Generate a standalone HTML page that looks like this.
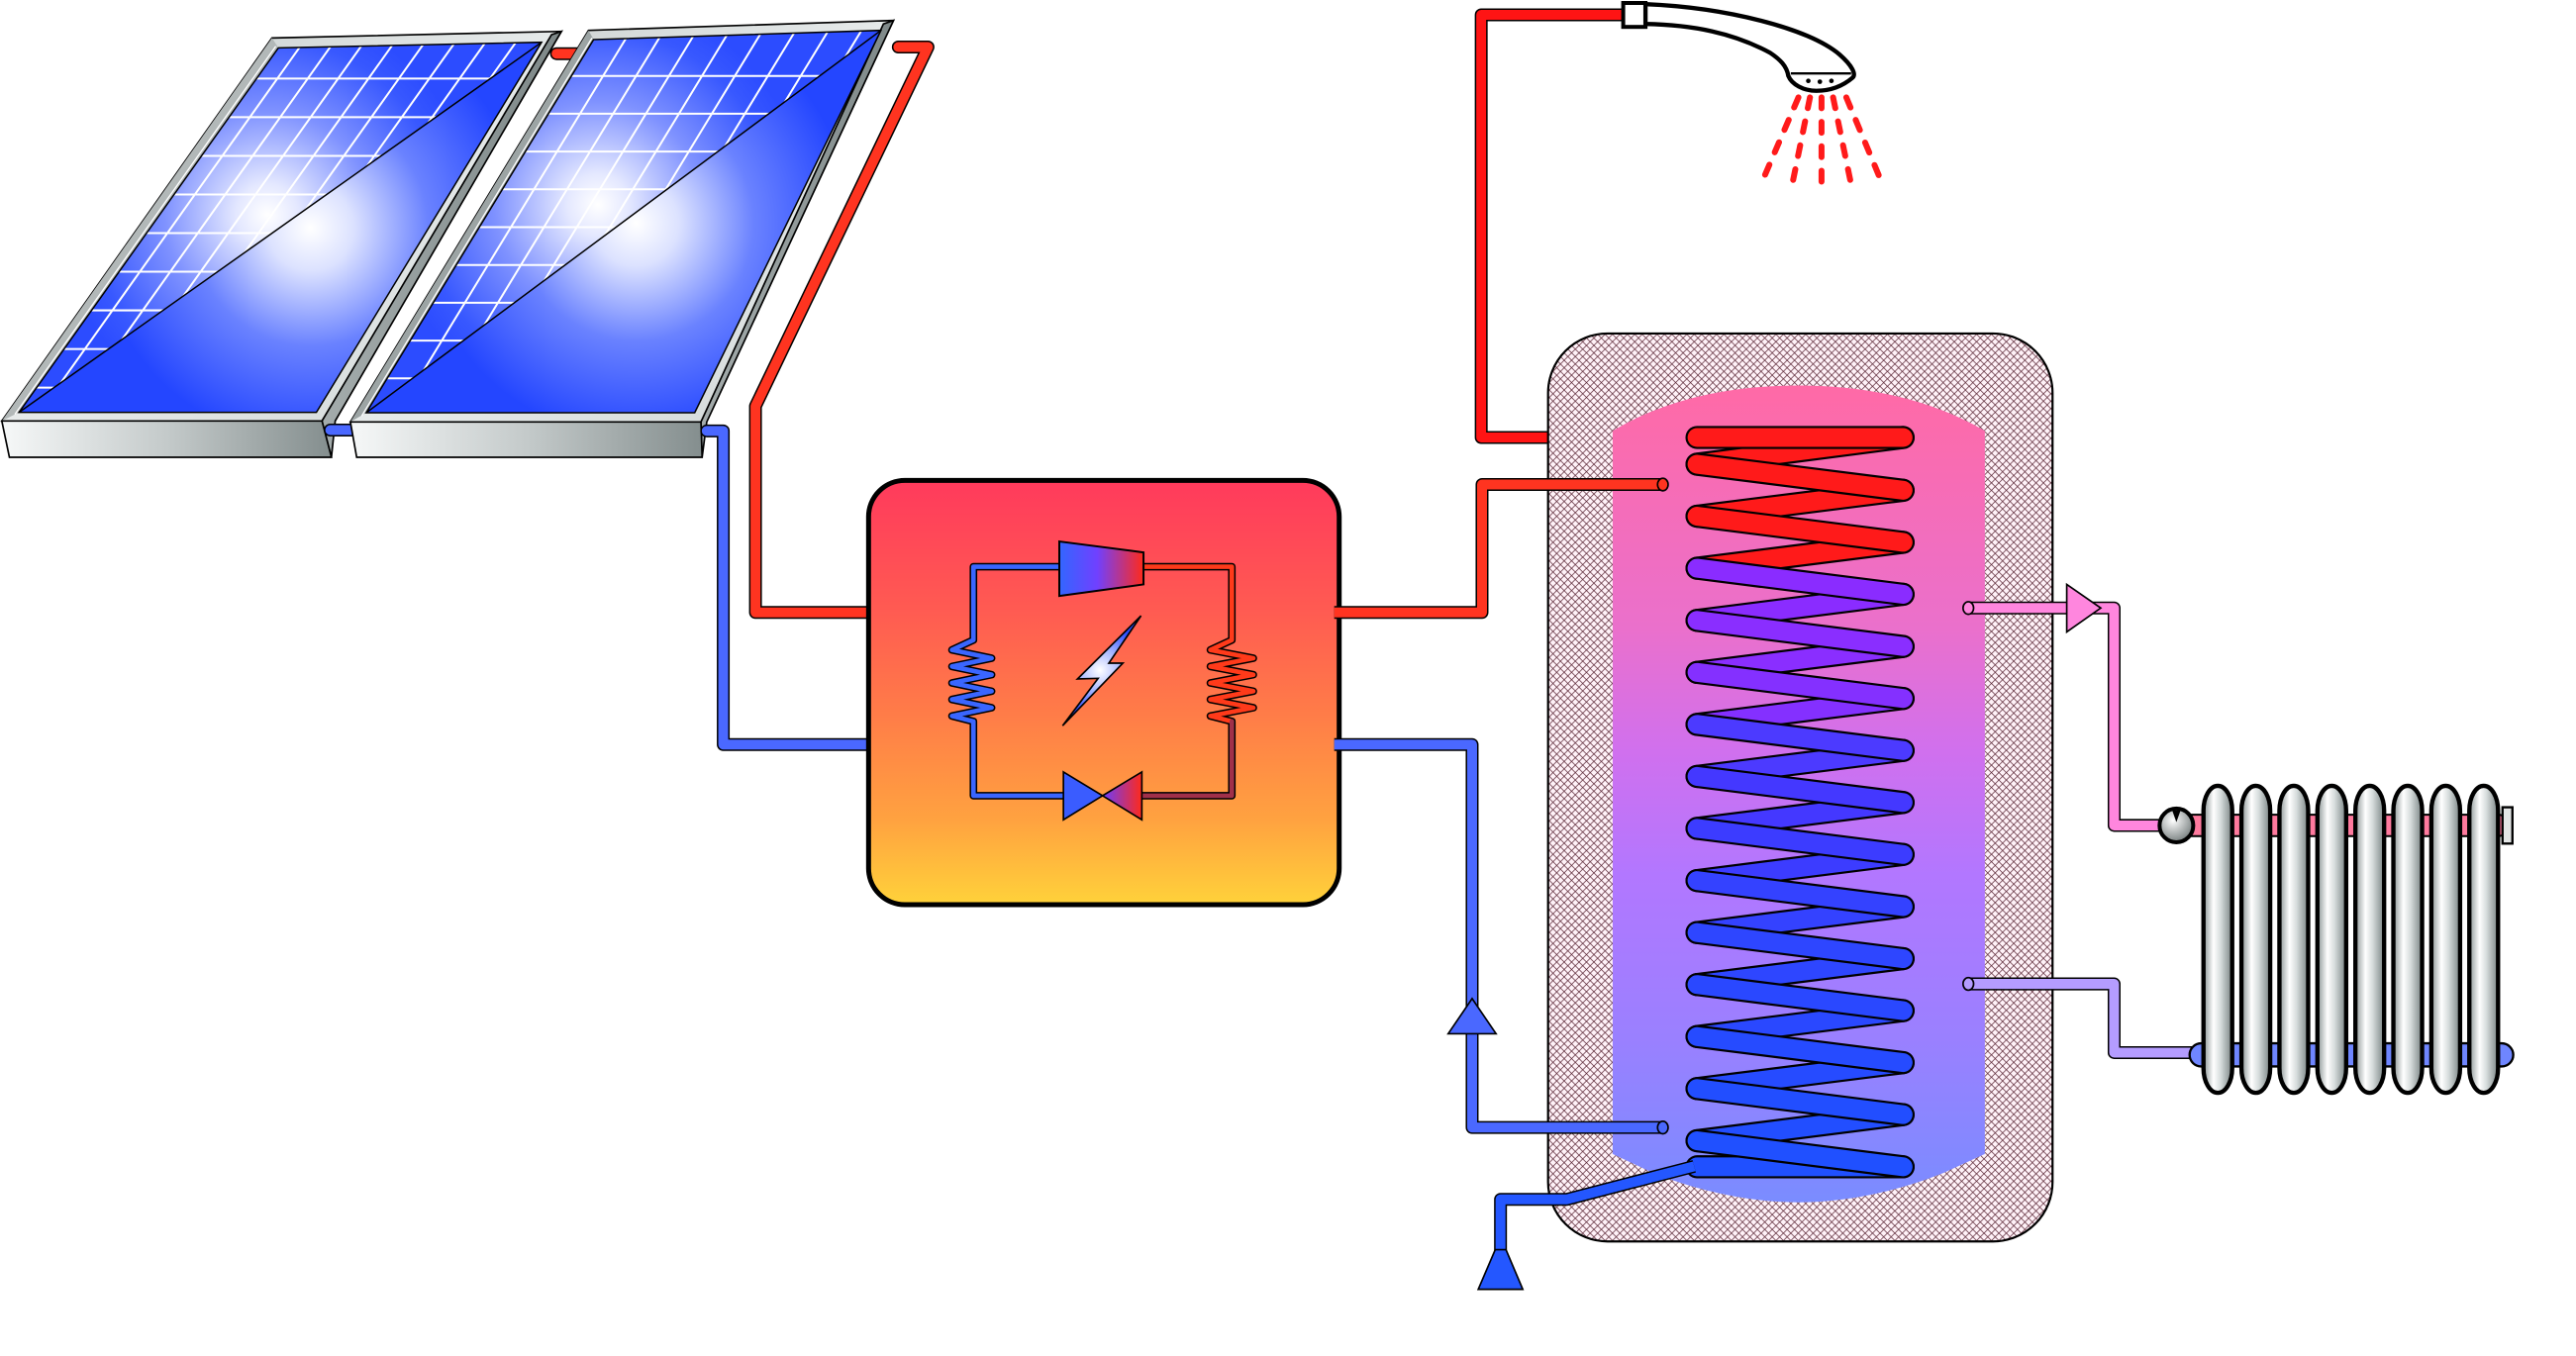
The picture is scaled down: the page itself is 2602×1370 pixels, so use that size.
<!DOCTYPE html>
<html><head><meta charset="utf-8"><style>
html,body{margin:0;padding:0;background:#fff;}
svg{display:block;}
</style></head><body>
<svg width="2602" height="1370" viewBox="0 0 1560 821.4" preserveAspectRatio="none" xmlns="http://www.w3.org/2000/svg">
<defs>
 <linearGradient id="frameG" x1="0" y1="0" x2="1" y2="1">
  <stop offset="0" stop-color="#c2c8c8"/><stop offset="0.5" stop-color="#e6eaea"/><stop offset="1" stop-color="#d0d6d6"/>
 </linearGradient>
 <linearGradient id="sideG" x1="0" y1="0" x2="1" y2="0">
  <stop offset="0" stop-color="#a4acac"/><stop offset="1" stop-color="#7e8888"/>
 </linearGradient>
 <linearGradient id="frontG" x1="0" y1="0" x2="1" y2="0">
  <stop offset="0" stop-color="#f6f8f8"/><stop offset="0.5" stop-color="#c4caca"/><stop offset="1" stop-color="#848e8e"/>
 </linearGradient>
 <radialGradient id="ulL" gradientUnits="userSpaceOnUse" cx="162" cy="130" r="125">
  <stop offset="0" stop-color="#ffffff"/><stop offset="0.15" stop-color="#e4e8ff"/><stop offset="0.5" stop-color="#7f92ff"/><stop offset="0.85" stop-color="#3858ff"/><stop offset="1" stop-color="#2c4cff"/>
 </radialGradient>
 <radialGradient id="lrL" gradientUnits="userSpaceOnUse" cx="188" cy="138" r="130">
  <stop offset="0" stop-color="#ffffff"/><stop offset="0.2" stop-color="#dce2ff"/><stop offset="0.55" stop-color="#6a82ff"/><stop offset="1" stop-color="#2446ff"/>
 </radialGradient>
 <radialGradient id="ulR" gradientUnits="userSpaceOnUse" cx="362" cy="124" r="125">
  <stop offset="0" stop-color="#ffffff"/><stop offset="0.15" stop-color="#e4e8ff"/><stop offset="0.5" stop-color="#7f92ff"/><stop offset="0.85" stop-color="#3858ff"/><stop offset="1" stop-color="#2c4cff"/>
 </radialGradient>
 <radialGradient id="lrR" gradientUnits="userSpaceOnUse" cx="385" cy="135" r="130">
  <stop offset="0" stop-color="#ffffff"/><stop offset="0.2" stop-color="#dce2ff"/><stop offset="0.55" stop-color="#6a82ff"/><stop offset="1" stop-color="#2446ff"/>
 </radialGradient>
 <clipPath id="clipL"><polygon points="168.6,29 328,25.6 11.5,249.8"/></clipPath>
 <clipPath id="clipR"><polygon points="359.5,24 533.5,18.4 221.8,250"/></clipPath>
 <linearGradient id="boxG" x1="0" y1="0" x2="0" y2="1">
  <stop offset="0" stop-color="#ff3a5c"/><stop offset="0.3" stop-color="#ff5a52"/><stop offset="0.55" stop-color="#ff7c48"/><stop offset="0.8" stop-color="#ffa240"/><stop offset="1" stop-color="#ffd23a"/>
 </linearGradient>
 <linearGradient id="compG" x1="0" y1="0" x2="1" y2="0">
  <stop offset="0" stop-color="#3366ff"/><stop offset="0.45" stop-color="#7040ff"/><stop offset="1" stop-color="#ff2a1a"/>
 </linearGradient>
 <linearGradient id="valveG" x1="0" y1="0" x2="1" y2="0">
  <stop offset="0" stop-color="#6a3cff"/><stop offset="1" stop-color="#ff2a1a"/>
 </linearGradient>
 <radialGradient id="boltG" gradientUnits="userSpaceOnUse" cx="666" cy="406" r="28">
  <stop offset="0" stop-color="#ffffff"/><stop offset="0.45" stop-color="#a8b8ff"/><stop offset="1" stop-color="#2a4cff"/>
 </radialGradient>
 <pattern id="hatch" patternUnits="userSpaceOnUse" width="4.5" height="4.5">
  <rect width="4.5" height="4.5" fill="#fff2f8"/>
  <path d="M0,0 L4.5,4.5 M4.5,0 L0,4.5 M-0.5,4 L0.5,5 M4,-0.5 L5,0.5 M4,5 L5,4 M-0.5,0.5 L0.5,-0.5" stroke="#55202f" stroke-width="0.44"/>
 </pattern>
 <linearGradient id="tankG" gradientUnits="userSpaceOnUse" x1="0" y1="233" x2="0" y2="728">
  <stop offset="0" stop-color="#ff6aa6"/><stop offset="0.3" stop-color="#ea70cc"/><stop offset="0.45" stop-color="#d070ee"/><stop offset="0.6" stop-color="#b277ff"/><stop offset="0.8" stop-color="#9a80ff"/><stop offset="1" stop-color="#7a8cff"/>
 </linearGradient>
 <linearGradient id="colG" x1="0" y1="0" x2="1" y2="0">
  <stop offset="0" stop-color="#8a9494"/><stop offset="0.35" stop-color="#ffffff"/><stop offset="0.6" stop-color="#d6dcdc"/><stop offset="1" stop-color="#7a8484"/>
 </linearGradient>
 <radialGradient id="valvR" cx="0.4" cy="0.35" r="0.7">
  <stop offset="0" stop-color="#ffffff"/><stop offset="1" stop-color="#707878"/>
 </radialGradient>
</defs>

<!-- ============ LEFT SOLAR PANEL ============ -->
<polygon points="164.7,23 340,19 195,255 1.1,255" fill="url(#frameG)" stroke="#000" stroke-width="1"/>
<polygon points="164.7,23 168.6,29 11.5,249.8 1.1,255" fill="#b2b8b8"/>
<line x1="167" y1="28" x2="9" y2="251" stroke="#fff" stroke-width="0.8"/>
<polygon points="334,21 340,19 203,255 200.7,277 195,255" fill="url(#sideG)" stroke="#000" stroke-width="1"/>
<polygon points="1.1,255 195,255 200.7,277 5.7,277" fill="url(#frontG)" stroke="#000" stroke-width="1"/>
<polygon points="168.6,29 328,25.6 11.5,249.8" fill="url(#ulL)"/>
<polygon points="328,25.6 191.6,249.8 11.5,249.8" fill="url(#lrL)"/>
<g clip-path="url(#clipL)" stroke="#fff" stroke-width="1.2" fill="none">
 <path d="M0,47.6H340M0,71H340M0,94.4H340M0,117.8H340M0,141.2H340M0,164.6H340M0,188H340M0,211.4H340M0,234.8H340"/>
 <path d="M187.6,20L20.4,255M206,20L38.8,255M224.4,20L57.2,255M242.8,20L75.6,255M261.2,20L94,255M279.6,20L112.4,255M298,20L130.8,255M316.4,20L149.2,255"/>
</g>
<polygon points="168.6,29 328,25.6 191.6,249.8 11.5,249.8" fill="none" stroke="#000" stroke-width="0.9"/>
<line x1="11.5" y1="249.8" x2="328" y2="25.6" stroke="#000" stroke-width="0.9"/>

<!-- stubs between panels -->
<path d="M337,32.5 L352,32.5" stroke="#000" stroke-width="7.8" stroke-linecap="round"/>
<path d="M337,32.5 L352,32.5" stroke="#ff3420" stroke-width="6" stroke-linecap="round"/>
<path d="M200,260.5 L213,260.5" stroke="#000" stroke-width="7.8" stroke-linecap="round"/>
<path d="M200,260.5 L213,260.5" stroke="#4a68ff" stroke-width="6" stroke-linecap="round"/>

<!-- ============ RIGHT SOLAR PANEL ============ -->
<polygon points="356.4,18.4 541.1,12.4 424.5,255.6 212.2,255.6" fill="url(#frameG)" stroke="#000" stroke-width="1"/>
<polygon points="356.4,18.4 359.5,24 221.8,250 212.2,255.6" fill="#9ca4a4"/>
<line x1="358.5" y1="23" x2="219" y2="252" stroke="#fff" stroke-width="0.8"/>
<polygon points="535,14.5 541.1,12.4 428,255.6 425.2,277 424.5,255.6" fill="url(#sideG)" stroke="#000" stroke-width="1"/>
<polygon points="212.2,255.6 424.5,255.6 425.2,277 216,277" fill="url(#frontG)" stroke="#000" stroke-width="1"/>
<polygon points="359.5,24 533.5,18.4 221.8,250" fill="url(#ulR)"/>
<polygon points="533.5,18.4 420.7,250 221.8,250" fill="url(#lrR)"/>
<g clip-path="url(#clipR)" stroke="#fff" stroke-width="1.2" fill="none">
 <path d="M200,46H540M200,68.9H540M200,91.8H540M200,114.7H540M200,137.6H540M200,160.5H540M200,183.4H540M200,206.3H540M200,229.2H540"/>
 <path d="M384.1,15L237.9,255M404.1,15L257.9,255M424,15L277.8,255M444,15L297.8,255M463.9,15L317.7,255M483.9,15L337.7,255M503.8,15L357.6,255M523.8,15L377.6,255"/>
</g>
<polygon points="359.5,24 533.5,18.4 420.7,250 221.8,250" fill="none" stroke="#000" stroke-width="0.9"/>
<line x1="221.8" y1="250" x2="533.5" y2="18.4" stroke="#000" stroke-width="0.9"/>

<!-- ============ PIPES (left side) ============ -->
<g fill="none" stroke-linejoin="round" stroke-linecap="round">
 <path d="M544,28.5 L562,28.5 L457.5,246 L457.5,371 L530,371" stroke="#000" stroke-width="7.8"/>
 <path d="M544,28.5 L562,28.5 L457.5,246 L457.5,371 L530,371" stroke="#ff3420" stroke-width="6"/>
 <path d="M428,261 L438,261 L438,451 L530,451" stroke="#000" stroke-width="7.8"/>
 <path d="M428,261 L438,261 L438,451 L530,451" stroke="#4a68ff" stroke-width="6"/>
 <path d="M937,265 L897,265 L897,9 L985,9" stroke="#000" stroke-width="7.8" stroke-linecap="butt"/>
 <path d="M937,265 L897,265 L897,9 L985,9" stroke="#ff1414" stroke-width="6" stroke-linecap="butt"/>
</g>

<!-- ============ HEAT PUMP BOX ============ -->
<rect x="526" y="291" width="285" height="257" rx="22" ry="22" fill="url(#boxG)" stroke="#000" stroke-width="3"/>
<g fill="none" stroke-linejoin="round" stroke-linecap="round">
 <path d="M641.5,343.3 L589.5,343.3 L589.5,387.7 L576.5,393.7 L600.5,398.7 L576.5,403.7 L600.5,408.7 L576.5,413.7 L600.5,418.7 L576.5,423.7 L600.5,428.7 L576.5,433.7 L589.5,437 L589.5,482 L644,482" stroke="#000" stroke-width="4.6"/>
 <path d="M692.5,343.3 L746,343.3 L746,387.7 L733,393.7 L759,398.7 L733,403.7 L759,408.7 L733,413.7 L759,418.7 L733,423.7 L759,428.7 L733,433.7 L746,437 L746,482 L691.5,482" stroke="#000" stroke-width="4.6"/>
 <path d="M641.5,343.3 L589.5,343.3 L589.5,387.7 L576.5,393.7 L600.5,398.7 L576.5,403.7 L600.5,408.7 L576.5,413.7 L600.5,418.7 L576.5,423.7 L600.5,428.7 L576.5,433.7 L589.5,437 L589.5,482 L644,482" stroke="#3a66ff" stroke-width="2.8"/>
 <path d="M692.5,343.3 L746,343.3 L746,387.7 L733,393.7 L759,398.7 L733,403.7 L759,408.7 L733,413.7 L759,418.7 L733,423.7 L759,428.7 L733,433.7 L746,437" stroke="#ff3a1a" stroke-width="2.8"/>
 <path d="M746,437 L746,482 L691.5,482" stroke="#a0304a" stroke-width="2.8"/>
</g>
<polygon points="641.5,328 692.5,334.6 692.5,354 641.5,361" fill="url(#compG)" stroke="#000" stroke-width="1.2"/>
<polygon points="644,467.6 667.7,482 644,496.6" fill="#3a5cff" stroke="#000" stroke-width="1"/>
<polygon points="691.5,467.6 667.7,482 691.5,496.6" fill="url(#valveG)" stroke="#000" stroke-width="1"/>
<polygon points="691,373 652.5,411.3 665,410.9 643.5,439.6 680,401.7 671.5,401.7" fill="url(#boltG)" stroke="#000" stroke-width="1" stroke-linejoin="miter"/>

<!-- ============ SHOWER ============ -->
<rect x="983" y="1.8" width="13.5" height="14.5" fill="#fff" stroke="#000" stroke-width="2.4"/>
<path d="M996.5,2.5 C1045,4.5 1095,17 1114,33 C1122,40 1124,45 1122,47 C1115,53 1107,55 1100,55 C1092,55 1085,51 1083,46 C1082,40 1078,36 1072,32 C1050,20 1025,15 996.5,14.5 Z" fill="#fff" stroke="#000" stroke-width="2.6" stroke-linejoin="round"/>
<path d="M1084.5,44.5 L1121,44.5" stroke="#000" stroke-width="1.4"/>
<circle cx="1095.1" cy="49" r="1.4" fill="#000"/>
<circle cx="1102.1" cy="49.5" r="1.4" fill="#000"/>
<circle cx="1109.1" cy="49" r="1.4" fill="#000"/>
<g stroke="#ff1a1a" stroke-width="3.6" stroke-linecap="round" stroke-dasharray="6.6 8.2" fill="none">
 <path d="M1089.1,59 L1068.2,107.5"/>
 <path d="M1096.1,59 L1085.1,113"/>
 <path d="M1103.1,59 L1103.1,114"/>
 <path d="M1110.1,59 L1121.1,112"/>
 <path d="M1118.1,59 L1138.1,107"/>
</g>

<!-- ============ TANK ============ -->
<rect x="937.5" y="202" width="305.5" height="550" rx="36" ry="36" fill="url(#hatch)" stroke="#000" stroke-width="1.3"/>
<path d="M976.6,261 C1010,241 1050,233.5 1089.3,233.5 C1128,233.5 1168,241 1202,261 L1202,699 L1177,710.5 C1148,722 1118,728.3 1089.3,728.3 C1060,728.3 1030,722 1001,710.5 L976.6,699 Z" fill="url(#tankG)"/>

<!-- box to tank pipes (over insulation) -->
<g fill="none" stroke-linejoin="round">
 <path d="M808,371 L897.5,371 L897.5,293.5 L1007,293.5" stroke="#000" stroke-width="7.8"/>
 <path d="M808,371 L897.5,371 L897.5,293.5 L1007,293.5" stroke="#ff3420" stroke-width="6"/>
 <path d="M808,451 L891.5,451 L891.5,683 L1007,683" stroke="#000" stroke-width="7.8"/>
 <path d="M808,451 L891.5,451 L891.5,683 L1007,683" stroke="#4a68ff" stroke-width="6"/>
</g>
<polygon points="891.5,604.9 906,626.2 877,626.2" fill="#4a68ff" stroke="#000" stroke-width="1"/>
<ellipse cx="1007" cy="293.5" rx="3.2" ry="3.8" fill="#ff3420" stroke="#000" stroke-width="1"/>
<ellipse cx="1007" cy="683" rx="3.2" ry="3.8" fill="#4a68ff" stroke="#000" stroke-width="1"/>

<!-- coil: back tubes -->
<g stroke-linecap="round" fill="none">
 <path d="M1152.5,265 L1027.7,281.2" stroke="#000" stroke-width="14"/><path d="M1152.5,265 L1027.7,281.2" stroke="#ff1a1a" stroke-width="11.4"/>
 <path d="M1152.5,297 L1027.7,312.7" stroke="#000" stroke-width="14"/><path d="M1152.5,297 L1027.7,312.7" stroke="#ff1a1a" stroke-width="11.4"/>
 <path d="M1152.5,328.5 L1027.7,344.2" stroke="#000" stroke-width="14"/><path d="M1152.5,328.5 L1027.7,344.2" stroke="#ff1a1a" stroke-width="11.4"/>
 <path d="M1152.5,360 L1027.7,375.8" stroke="#000" stroke-width="14"/><path d="M1152.5,360 L1027.7,375.8" stroke="#8a2cff" stroke-width="11.4"/>
 <path d="M1152.5,391.6 L1027.7,407.3" stroke="#000" stroke-width="14"/><path d="M1152.5,391.6 L1027.7,407.3" stroke="#8a2eff" stroke-width="11.4"/>
 <path d="M1152.5,423.1 L1027.7,438.8" stroke="#000" stroke-width="14"/><path d="M1152.5,423.1 L1027.7,438.8" stroke="#8430ff" stroke-width="11.4"/>
 <path d="M1152.5,454.6 L1027.7,470.3" stroke="#000" stroke-width="14"/><path d="M1152.5,454.6 L1027.7,470.3" stroke="#4c3aff" stroke-width="11.4"/>
 <path d="M1152.5,486.1 L1027.7,501.8" stroke="#000" stroke-width="14"/><path d="M1152.5,486.1 L1027.7,501.8" stroke="#4438ff" stroke-width="11.4"/>
 <path d="M1152.5,517.6 L1027.7,533.4" stroke="#000" stroke-width="14"/><path d="M1152.5,517.6 L1027.7,533.4" stroke="#3c3cff" stroke-width="11.4"/>
 <path d="M1152.5,549.2 L1027.7,564.9" stroke="#000" stroke-width="14"/><path d="M1152.5,549.2 L1027.7,564.9" stroke="#3442ff" stroke-width="11.4"/>
 <path d="M1152.5,580.7 L1027.7,596.4" stroke="#000" stroke-width="14"/><path d="M1152.5,580.7 L1027.7,596.4" stroke="#2e46ff" stroke-width="11.4"/>
 <path d="M1152.5,612.2 L1027.7,627.9" stroke="#000" stroke-width="14"/><path d="M1152.5,612.2 L1027.7,627.9" stroke="#2a48ff" stroke-width="11.4"/>
 <path d="M1152.5,643.7 L1027.7,659.4" stroke="#000" stroke-width="14"/><path d="M1152.5,643.7 L1027.7,659.4" stroke="#264bff" stroke-width="11.4"/>
 <path d="M1152.5,675.2 L1027.7,691" stroke="#000" stroke-width="14"/><path d="M1152.5,675.2 L1027.7,691" stroke="#224eff" stroke-width="11.4"/>
 <path d="M1152.5,706.8 L1027.7,706.8" stroke="#000" stroke-width="14"/><path d="M1152.5,706.8 L1027.7,706.8" stroke="#2050ff" stroke-width="11.4"/>
</g>
<!-- exit pipe -->
<g fill="none" stroke-linejoin="round">
 <path d="M1026,706.5 L949,726.5 L908.7,726.5 L908.7,760" stroke="#000" stroke-width="7.8"/>
 <path d="M1026,706.5 L949,726.5 L908.7,726.5 L908.7,760" stroke="#2457ff" stroke-width="6"/>
</g>
<polygon points="905.5,757 912,757 922.2,781 895.2,781" fill="#2457ff" stroke="#000" stroke-width="1"/>
<!-- coil: front tubes -->
<g stroke-linecap="round" fill="none">
 <path d="M1027.7,265 L1152.5,265" stroke="#000" stroke-width="14"/><path d="M1027.7,265 L1152.5,265" stroke="#ff1a1a" stroke-width="11.4"/>
 <path d="M1027.7,281.2 L1152.5,297" stroke="#000" stroke-width="14"/><path d="M1027.7,281.2 L1152.5,297" stroke="#ff1a1a" stroke-width="11.4"/>
 <path d="M1027.7,312.7 L1152.5,328.5" stroke="#000" stroke-width="14"/><path d="M1027.7,312.7 L1152.5,328.5" stroke="#ff1a1a" stroke-width="11.4"/>
 <path d="M1027.7,344.2 L1152.5,360" stroke="#000" stroke-width="14"/><path d="M1027.7,344.2 L1152.5,360" stroke="#8a2cff" stroke-width="11.4"/>
 <path d="M1027.7,375.8 L1152.5,391.6" stroke="#000" stroke-width="14"/><path d="M1027.7,375.8 L1152.5,391.6" stroke="#8a2eff" stroke-width="11.4"/>
 <path d="M1027.7,407.3 L1152.5,423.1" stroke="#000" stroke-width="14"/><path d="M1027.7,407.3 L1152.5,423.1" stroke="#8430ff" stroke-width="11.4"/>
 <path d="M1027.7,438.8 L1152.5,454.6" stroke="#000" stroke-width="14"/><path d="M1027.7,438.8 L1152.5,454.6" stroke="#4c3aff" stroke-width="11.4"/>
 <path d="M1027.7,470.3 L1152.5,486.1" stroke="#000" stroke-width="14"/><path d="M1027.7,470.3 L1152.5,486.1" stroke="#4438ff" stroke-width="11.4"/>
 <path d="M1027.7,501.8 L1152.5,517.6" stroke="#000" stroke-width="14"/><path d="M1027.7,501.8 L1152.5,517.6" stroke="#3c3cff" stroke-width="11.4"/>
 <path d="M1027.7,533.4 L1152.5,549.2" stroke="#000" stroke-width="14"/><path d="M1027.7,533.4 L1152.5,549.2" stroke="#3442ff" stroke-width="11.4"/>
 <path d="M1027.7,564.9 L1152.5,580.7" stroke="#000" stroke-width="14"/><path d="M1027.7,564.9 L1152.5,580.7" stroke="#2e46ff" stroke-width="11.4"/>
 <path d="M1027.7,596.4 L1152.5,612.2" stroke="#000" stroke-width="14"/><path d="M1027.7,596.4 L1152.5,612.2" stroke="#2a48ff" stroke-width="11.4"/>
 <path d="M1027.7,627.9 L1152.5,643.7" stroke="#000" stroke-width="14"/><path d="M1027.7,627.9 L1152.5,643.7" stroke="#264bff" stroke-width="11.4"/>
 <path d="M1027.7,659.4 L1152.5,675.2" stroke="#000" stroke-width="14"/><path d="M1027.7,659.4 L1152.5,675.2" stroke="#224eff" stroke-width="11.4"/>
 <path d="M1027.7,691 L1152.5,706.8" stroke="#000" stroke-width="14"/><path d="M1027.7,691 L1152.5,706.8" stroke="#2050ff" stroke-width="11.4"/>
</g>

<!-- radiator supply / return -->
<g fill="none" stroke-linejoin="round">
 <path d="M1192,368.3 L1280.3,368.3 L1280.3,500 L1310,500" stroke="#000" stroke-width="7.8"/>
 <path d="M1192,368.3 L1280.3,368.3 L1280.3,500 L1310,500" stroke="#ff86de" stroke-width="6"/>
 <path d="M1192,596 L1280.3,596 L1280.3,637.6 L1332,637.6" stroke="#000" stroke-width="7.8"/>
 <path d="M1192,596 L1280.3,596 L1280.3,637.6 L1332,637.6" stroke="#b49cff" stroke-width="6"/>
</g>
<ellipse cx="1192" cy="368.3" rx="3.2" ry="3.8" fill="#ff86de" stroke="#000" stroke-width="1"/>
<ellipse cx="1192" cy="596" rx="3.2" ry="3.8" fill="#b49cff" stroke="#000" stroke-width="1"/>
<polygon points="1251.6,354 1272.2,368.3 1251.6,382.8" fill="#ff86de" stroke="#000" stroke-width="1"/>

<!-- ============ RADIATOR ============ -->
<rect x="1322" y="493.5" width="196" height="13" rx="5" fill="#ff7a9e" stroke="#000" stroke-width="1.2"/>
<rect x="1515.5" y="489" width="6" height="22" fill="#e4e6e6" stroke="#000" stroke-width="1.4"/>
<rect x="1326" y="632" width="196" height="14" rx="7" fill="#6f86ff" stroke="#000" stroke-width="1.4"/>
<g fill="url(#colG)" stroke="#000" stroke-width="2.6">
 <rect x="1334.4" y="476" width="17.4" height="186" rx="8.7" ry="15"/>
 <rect x="1357.4" y="476" width="17.4" height="186" rx="8.7" ry="15"/>
 <rect x="1380.4" y="476" width="17.4" height="186" rx="8.7" ry="15"/>
 <rect x="1403.4" y="476" width="17.4" height="186" rx="8.7" ry="15"/>
 <rect x="1426.4" y="476" width="17.4" height="186" rx="8.7" ry="15"/>
 <rect x="1449.4" y="476" width="17.4" height="186" rx="8.7" ry="15"/>
 <rect x="1472.4" y="476" width="17.4" height="186" rx="8.7" ry="15"/>
 <rect x="1495.4" y="476" width="17.4" height="186" rx="8.7" ry="15"/>
</g>
<circle cx="1318" cy="500" r="10.2" fill="url(#valvR)" stroke="#000" stroke-width="2.4"/>
<path d="M1315.5,491 L1318,498 L1320.5,491 Z" fill="#000"/>
</svg>
</body></html>
